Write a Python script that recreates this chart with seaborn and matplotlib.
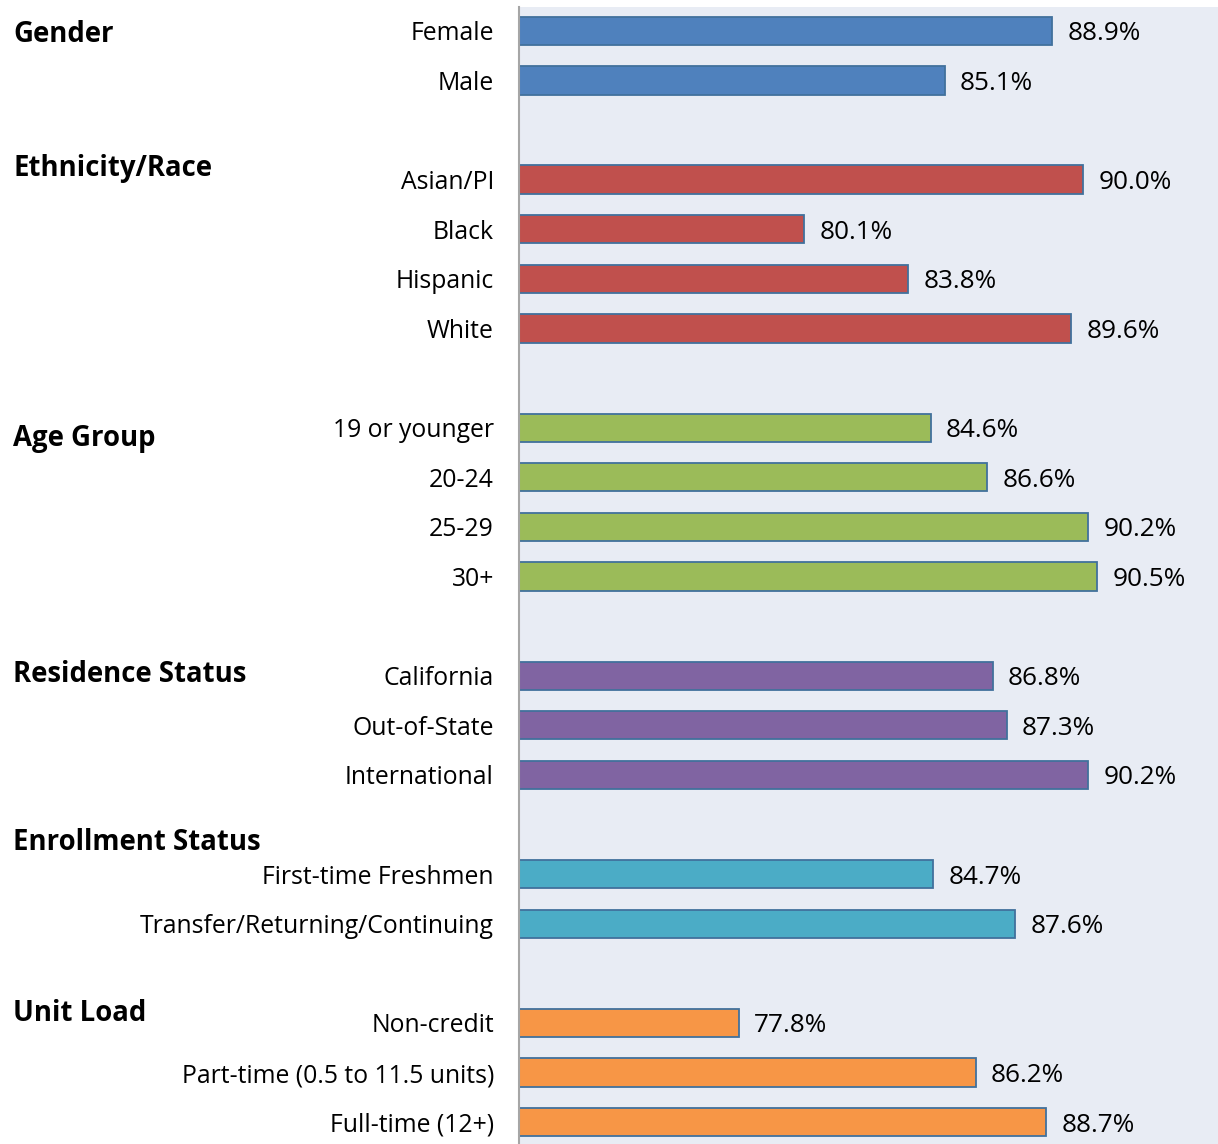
import matplotlib
matplotlib.use("Agg")
import matplotlib.pyplot as plt
import matplotlib.transforms as mtransforms
import seaborn as sns
import pandas as pd

# data
groups = ["Gender", "Ethnicity/Race", "Age Group", "Residence Status",
          "Enrollment Status", "Unit Load"]
gender_labels = ["Female", "Male"]
gender_values = [88.9, 85.1]
race_labels = ["Asian/PI", "Black", "Hispanic", "White"]
race_values = [90.0, 80.1, 83.8, 89.6]
age_labels = ["19 or younger", "20-24", "25-29", "30+"]
age_values = [84.6, 86.6, 90.2, 90.5]
residence_labels = ["California", "Out-of-State", "International"]
residence_values = [86.8, 87.3, 90.2]
enroll_labels = ["First-time Freshmen", "Transfer/Returning/Continuing"]
enroll_values = [84.7, 87.6]
unit_labels = ["Non-credit", "Part-time (0.5 to 11.5 units)", "Full-time (12+)"]
unit_values = [77.8, 86.2, 88.7]

colors = ["#4F81BD", "#C0504D", "#9BBB59", "#8064A2", "#4BACC6", "#F79646"]

all_labels = [gender_labels, race_labels, age_labels, residence_labels,
              enroll_labels, unit_labels]
all_values = [gender_values, race_values, age_values, residence_values,
              enroll_values, unit_values]

# build rows, leaving one blank slot between groups
rows = []
slot = 0
for g, labs, vals in zip(groups, all_labels, all_values):
    for l, v in zip(labs, vals):
        rows.append({"group": g, "label": l, "value": v, "slot": slot})
        slot += 1
    slot += 1
df = pd.DataFrame(rows)

# header y positions (in slot units)
header_y = [0, 2.7, 8.15, 12.9, 16.3, 19.74]

sns.set_style("white")
plt.rcParams["font.family"] = ["Open Sans", "DejaVu Sans"]

fig = plt.figure(figsize=(12.18, 11.44), dpi=100)
ax = fig.add_axes([0.4261, 0.0, 0.5739, 0.9939])
ax.set_facecolor("#E8ECF4")

sns.barplot(data=df, x="value", y="slot", hue="group", palette=colors,
            orient="h", native_scale=True, dodge=False, width=0.57,
            saturation=1, edgecolor="#41719C", linewidth=1.3,
            legend=False, ax=ax)

ax.set_xlim(70, 94.8)
ax.set_ylim(22.44, -0.48)

for _, r in df.iterrows():
    ax.text(r["value"] + 0.55, r["slot"], f"{r['value']:.1f}%",
            va="center_baseline", ha="left", fontsize=18.8, color="black")

ax.set_yticks(df["slot"])
ax.set_yticklabels(df["label"], fontsize=17.8, color="black")
for t in ax.get_yticklabels():
    t.set_verticalalignment("center_baseline")
ax.tick_params(axis="y", length=0, pad=18)
ax.set_xticks([])
ax.set_xlabel("")
ax.set_ylabel("")

for s in ["top", "right", "bottom"]:
    ax.spines[s].set_visible(False)
ax.spines["left"].set_color("#A6A6A6")
ax.spines["left"].set_linewidth(1.5)

trans = mtransforms.blended_transform_factory(fig.transFigure, ax.transData)
for g, y in zip(groups, header_y):
    ax.text(0.0107, y, g, transform=trans, ha="left", va="center_baseline",
            fontsize=19.8, fontweight="bold", color="black")

fig.savefig("out.png", dpi=100)
